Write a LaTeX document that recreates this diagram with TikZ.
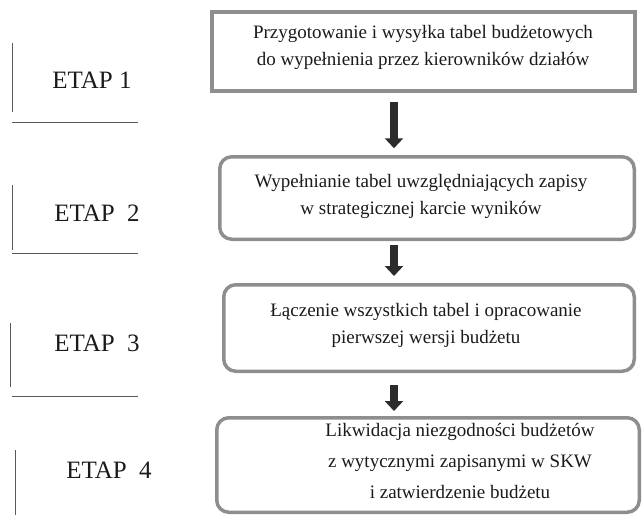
\documentclass[tikz,border=0pt]{standalone}
\usepackage{fontspec}
\setmainfont{Liberation Serif}
\usetikzlibrary{arrows.meta}
\definecolor{boxgray}{HTML}{8E8E8E}
\definecolor{arrowdark}{HTML}{2B2B2B}
\definecolor{linegray}{HTML}{5A5A5A}
\definecolor{textblack}{HTML}{1A1A1A}
\begin{document}
\begin{tikzpicture}[x=1pt,y=-1pt,
  sqbox/.style={draw=boxgray, line width=4pt, inner sep=0pt},
  rbox/.style={draw=boxgray, line width=3.5pt, rounded corners=12pt, inner sep=0pt},
  boxtext/.style={font=\fontsize{19}{27}\selectfont, align=center, inner sep=0pt, text=textblack},
  boxtextwide/.style={font=\fontsize{19}{31}\selectfont, align=center, inner sep=0pt, text=textblack},
  etap/.style={font=\fontsize{25}{29}\selectfont, inner sep=0pt, text=textblack},
  bracket/.style={draw=linegray, line width=1pt},
  flow/.style={draw=arrowdark, line width=8pt, -{Triangle[width=18pt,length=10pt]}}]
\useasboundingbox (0,0) rectangle (642,515);

% boxes
\node[sqbox, minimum width=423pt, minimum height=79pt] (b1) at (423.5,51.5) {};
\node[rbox, minimum width=414.5pt, minimum height=82.5pt] (b2) at (427,198) {};
\node[rbox, minimum width=410.5pt, minimum height=86.5pt] (b3) at (429,328) {};
\node[rbox, minimum width=422.5pt, minimum height=94.5pt] (b4) at (428,465) {};

% box texts
\node[boxtext] (t1) at (423,47) {Przygotowanie i wysyłka tabel budżetowych\\do wypełnienia przez kierowników działów};
\node[boxtext] (t2) at (421,196.5) {Wypełnianie tabel uwzględniających zapisy\\w strategicznej karcie wyników};
\node[boxtext] (t3) at (426,325) {Łączenie wszystkich tabel i opracowanie\\pierwszej wersji budżetu};
\node[boxtextwide] (t4) at (460,460.5) {Likwidacja niezgodności budżetów\\z wytycznymi zapisanymi w SKW\\i zatwierdzenie budżetu};

% arrows
\coordinate (ax) at (394,0);
\draw[flow] ([yshift=-9pt]b1.south -| ax) -- ([yshift=6.75pt]b2.north -| ax);
\draw[flow] ([yshift=-4pt]b2.south -| ax) -- ([yshift=7pt]b3.north -| ax);
\draw[flow] ([yshift=-12pt]b3.south -| ax) -- ([yshift=5pt]b4.north -| ax);

% stage labels
\node[etap] (e1) at (92,80) {ETAP 1};
\node[etap] (e2) at (97,213) {ETAP\ \ 2};
\node[etap] (e3) at (97,343) {ETAP\ \ 3};
\node[etap] (e4) at (109,470) {ETAP\ \ 4};

% brackets
\draw[bracket] (12,43) -- (12,112);
\draw[bracket] (12,122) -- (138,122);
\draw[bracket] (12,185) -- (12,250);
\draw[bracket] (12,253) -- (138,253);
\draw[bracket] (10,323) -- (10,387);
\draw[bracket] (12,396) -- (138,396);
\draw[bracket] (15,450) -- (15,515);
\end{tikzpicture}
\end{document}
